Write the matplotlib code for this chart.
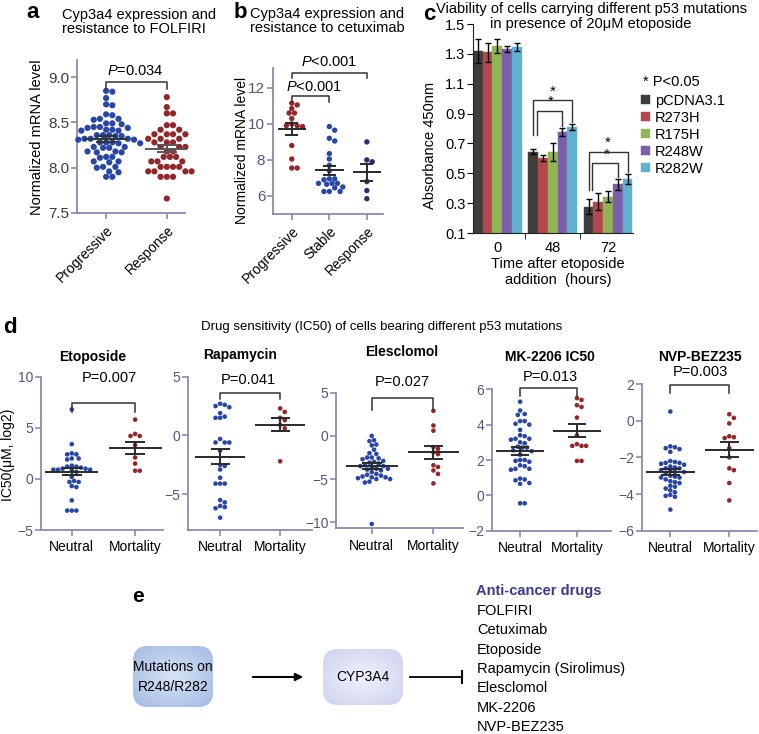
import numpy as np
import matplotlib.pyplot as plt
from matplotlib.patches import FancyBboxPatch
from matplotlib.colors import LinearSegmentedColormap

plt.rcParams['font.family'] = ['Liberation Sans', 'DejaVu Sans']
plt.rcParams['mathtext.fontset'] = 'custom'
plt.rcParams['mathtext.it'] = 'Liberation Sans:italic'
plt.rcParams['mathtext.rm'] = 'Liberation Sans'

W, H = 759, 734

# ---------------- data ----------------
# a: Cyp3a4 vs FOLFIRI
folfiri_progressive = [8.85, 8.84, 8.77, 8.70, 8.69, 8.59, 8.58, 8.54, 8.54, 8.53,
                       8.49, 8.49, 8.48, 8.45, 8.45, 8.44, 8.44, 8.42, 8.42, 8.41, 8.41,
                       8.36, 8.36, 8.36, 8.35, 8.35, 8.32, 8.32, 8.32, 8.31, 8.31,
                       8.28, 8.28, 8.28, 8.27, 8.27, 8.23, 8.23, 8.22, 8.22,
                       8.18, 8.18, 8.17, 8.17, 8.12, 8.12, 8.11, 8.07, 8.07, 8.06,
                       8.01, 8.01, 8.00, 7.96, 7.95, 7.90, 7.90]
folfiri_response = [8.78, 8.67, 8.60, 8.60, 8.47, 8.47, 8.42, 8.42,
                    8.37, 8.37, 8.37, 8.37, 8.32, 8.32, 8.32, 8.28, 8.28, 8.28,
                    8.23, 8.23, 8.23, 8.18, 8.18, 8.12, 8.12, 8.12, 8.07, 8.07, 8.07,
                    8.01, 8.01, 8.01, 8.01, 7.96, 7.96, 7.96, 7.96, 7.90, 7.90, 7.90, 7.66]

# b: Cyp3a4 vs cetuximab
cetux_progressive = [11.15, 11.05, 10.85, 10.6, 10.6, 10.3, 10.0, 9.9, 9.9, 9.85,
                     8.8, 8.05, 7.55, 7.55]
cetux_stable = [9.85, 9.65, 9.2, 9.05, 8.35, 8.05, 7.7, 7.4, 6.95, 6.95, 6.9,
                6.7, 6.7, 6.7, 6.65, 6.5, 6.45, 6.25, 6.25, 6.25]
cetux_response = [9.0, 8.0, 7.9, 6.8, 6.3, 5.85]

# c: viability bars
hours = ['0', '48', '72']
constructs = ['pCDNA3.1', 'R273H', 'R175H', 'R248W', 'R282W']
absorbance = {
    'pCDNA3.1': [1.322, 0.645, 0.277],
    'R273H': [1.31, 0.603, 0.31],
    'R175H': [1.352, 0.643, 0.343],
    'R248W': [1.33, 0.777, 0.425],
    'R282W': [1.347, 0.807, 0.46],
}
absorbance_err = {
    'pCDNA3.1': [0.08, 0.015, 0.05],
    'R273H': [0.065, 0.022, 0.055],
    'R175H': [0.048, 0.062, 0.035],
    'R248W': [0.02, 0.025, 0.035],
    'R282W': [0.028, 0.02, 0.032],
}
bar_colors = ['#3d3d3d', '#b4474d', '#91b552', '#7c5fa8', '#5fb1d0']

# d: IC50 by p53 mutation class
drug_names = ['Etoposide', 'Rapamycin', 'Elesclomol', 'MK-2206 IC50', 'NVP-BEZ235']
drug_pvals = ['P=0.007', 'P=0.041', 'P=0.027', 'P=0.013', 'P=0.003']
neutral_etoposide = [6.8, 3.4, 2.5, 2.4, 2.4, 2.0, 1.9, 2.0, 1.3, 1.2, 1.2, 1.1, 1.0, 1.0,
                     0.9, 0.9, 0.9, 0.8, 0.7, 0.2, -0.2, -0.3, -0.3, -0.7, -0.8, -2.1,
                     -3.1, -3.1, -3.1]
mortality_etoposide = [5.8, 4.4, 4.2, 4.2, 3.3, 2.1, 1.5, 0.8, 0.8]
neutral_rapamycin = [2.7, 2.6, 2.5, 2.4, 1.9, 1.6, 1.5, 1.5, -0.3, -0.6, -0.6, -0.6, -1.3,
                     -2.5, -2.6, -2.9, -3.6, -4.1, -4.1, -4.1, -5.5, -5.7, -6.0, -6.1,
                     -6.2, -7.0]
mortality_rapamycin = [2.3, 2.0, 1.5, 1.3, 0.9, 0.6, -2.2]
neutral_elesclomol = [0.0, -0.5, -0.6, -1.0, -1.1, -1.6, -2.0, -2.1, -2.5, -2.5, -2.6, -2.7,
                      -2.9, -3.0, -3.1, -3.2, -3.4, -3.5, -3.5, -3.6, -3.8, -3.8, -3.9,
                      -4.0, -4.2, -4.4, -4.5, -4.6, -4.7, -4.8, -4.8, -4.9, -5.0, -5.0,
                      -5.3, -5.4, -10.2]
mortality_elesclomol = [2.9, 1.2, 0.6, -1.3, -1.5, -1.9, -2.1, -3.4, -3.6, -4.0, -4.4, -5.5]
neutral_mk2206 = [5.3, 4.8, 4.6, 4.55, 4.2, 4.2, 4.05, 4.0, 3.7, 3.4, 3.35, 3.2, 3.2, 3.15,
                  3.0, 2.95, 2.75, 2.7, 2.7, 2.55, 2.5, 2.3, 2.0, 2.0, 1.95, 1.9, 1.7,
                  1.65, 1.5, 1.5, 1.45, 0.95, 0.9, 0.85, 0.7, 0.65, -0.45, -0.45]
mortality_mk2206 = [5.5, 5.4, 5.1, 5.0, 4.4, 3.4, 2.9, 2.8, 2.8, 2.8, 1.95, 1.95]
neutral_nvp = [0.5, -1.4, -1.45, -1.5, -1.55, -1.7, -2.2, -2.25, -2.3, -2.3, -2.35, -2.4,
               -2.5, -2.55, -2.6, -2.6, -2.7, -2.75, -2.8, -2.8, -2.9, -3.0, -3.05,
               -3.1, -3.1, -3.2, -3.3, -3.35, -3.4, -3.55, -3.6, -3.7, -3.8, -3.9,
               -4.05, -4.1, -4.15, -4.85]
mortality_nvp = [0.35, 0.15, -0.15, -0.85, -0.9, -0.95, -1.5, -2.0, -2.6, -2.7, -3.4, -4.35]

# e: diagram
drug_list = ['FOLFIRI', 'Cetuximab', 'Etoposide', 'Rapamycin (Sirolimus)',
             'Elesclomol', 'MK-2206', 'NVP-BEZ235']

BLUE = '#2846a8'
RED = '#922629'
NAVY = '#2d2c6c'
SPINE = '#8a8ab2'
TICKLAB = '#55557c'

fig = plt.figure(figsize=(W / 100, H / 100), dpi=100)


def px_axes(x0, y0, x1, y1):
    return fig.add_axes([x0 / W, 1 - y1 / H, (x1 - x0) / W, (y1 - y0) / H])


def ftext(x, y, s, **kw):
    kw.setdefault('ha', 'center')
    kw.setdefault('va', 'center')
    return fig.text(x / W, 1 - y / H, s, **kw)


def swarm(ax, xc, vals, diam):
    vals = np.asarray(vals, float)
    t = ax.transData
    ypix = t.transform(np.column_stack([np.zeros_like(vals), vals]))[:, 1]
    sx = t.transform((1, 0))[0] - t.transform((0, 0))[0]
    placed = []
    xoff = np.zeros(len(vals))
    step = diam * 0.5
    for i in np.argsort(-vals, kind='stable'):
        k = 0
        while True:
            cand = ((k + 1) // 2) * step * (1 if k % 2 else -1)
            if all((cand - px) ** 2 + (ypix[i] - py) ** 2 >= (diam * 0.97) ** 2
                   for px, py in placed):
                break
            k += 1
        placed.append((cand, ypix[i]))
        xoff[i] = cand / sx
    return xc + xoff


def mean_sem(ax, xc, vals, half_mean, half_sem, color='#2a2a2a', lw=1.4):
    m = np.mean(vals)
    se = np.std(vals, ddof=1) / np.sqrt(len(vals))
    kw = dict(color=color, lw=lw, zorder=4, solid_capstyle='butt')
    ax.plot([xc - half_mean, xc + half_mean], [m, m], **kw)
    ax.plot([xc - half_sem, xc + half_sem], [m + se, m + se], **kw)
    ax.plot([xc - half_sem, xc + half_sem], [m - se, m - se], **kw)
    ax.plot([xc, xc], [m - se, m + se], **kw)


def bracket(ax, x0, x1, ytop, yleg0, yleg1=None, color='#333333', lw=1.1):
    if yleg1 is None:
        yleg1 = yleg0
    ax.plot([x0, x0, x1, x1], [yleg0, ytop, ytop, yleg1], color=color, lw=lw,
            clip_on=False, zorder=5)


def style_scatter(ax, spine=SPINE, ticklab=TICKLAB, fs=10):
    for s in ['top', 'right']:
        ax.spines[s].set_visible(False)
    for s in ['left', 'bottom']:
        ax.spines[s].set_color(spine)
        ax.spines[s].set_linewidth(1.3)
    ax.tick_params(axis='both', colors=spine, direction='out', length=4, width=1.2)
    ax.tick_params(axis='y', labelcolor=ticklab, labelsize=fs, pad=1.5)
    ax.tick_params(axis='x', labelcolor='black', labelsize=fs)
    ax.set_facecolor('none')


def dots(ax, xc, vals, color, diam):
    xs = swarm(ax, xc, vals, diam)
    s = (diam * 0.72) ** 2
    ax.scatter(xs, vals, s=s, color=color, edgecolors='none', zorder=3, clip_on=False)


# ---------------- panel a ----------------
ax = px_axes(77, 60, 185, 213)
ax.set_xlim(-0.48, 1.3)
ax.set_ylim(7.5, 9.19)
style_scatter(ax)
ax.set_yticks([7.5, 8.0, 8.5, 9.0])
ax.set_yticklabels(['7.5', '8.0', '8.5', '9.0'], color='#3a3a3a', fontsize=11)
ax.set_xticks([0, 1])
ax.set_xticklabels(['Progressive', 'Response'], rotation=45, ha='right',
                   rotation_mode='anchor', fontsize=10)
dots(ax, 0, folfiri_progressive, BLUE, 6.2)
dots(ax, 1, folfiri_response, RED, 6.2)
mean_sem(ax, 0, folfiri_progressive, 0.36, 0.16, color='#333333')
mean_sem(ax, 1, folfiri_response, 0.36, 0.16, color='#555555')
bracket(ax, 0, 1, 8.95, 8.87)
ftext(135, 71, r'$\it{P}$=0.034', fontsize=10.5)
ftext(37, 137, 'Normalized mRNA level', fontsize=10.5, rotation=90)
ftext(33, 13, 'a', fontsize=16, fontweight='bold')
ftext(62, 22, 'Cyp3a4 expression and\nresistance to FOLFIRI', ha='left',
      fontsize=10.5, linespacing=1.05)

# ---------------- panel b ----------------
ax = px_axes(273, 68, 383, 214)
ax.set_xlim(-0.5, 2.43)
ax.set_ylim(5.0, 13.1)
style_scatter(ax)
ax.set_yticks([6, 8, 10, 12])
ax.tick_params(axis='y', labelsize=11)
ax.set_xticks([0, 1, 2])
ax.set_xticklabels(['Progressive', 'Stable', 'Response'], rotation=45, ha='right',
                   rotation_mode='anchor', fontsize=10)
dots(ax, 0, cetux_progressive, RED, 5.4)
dots(ax, 1, cetux_stable, BLUE, 5.4)
dots(ax, 2, cetux_response, NAVY, 5.4)
mean_sem(ax, 0, cetux_progressive, 0.38, 0.17)
mean_sem(ax, 1, cetux_stable, 0.38, 0.17)
mean_sem(ax, 2, cetux_response, 0.38, 0.17)
bracket(ax, 0, 1, 11.52, 11.24)
bracket(ax, 0, 2, 12.82, 12.54)
ftext(314, 87, r'$\it{P}$<0.001', fontsize=10.5)
ftext(329, 62, r'$\it{P}$<0.001', fontsize=10.5)
ftext(242, 150, 'Normalized mRNA level', fontsize=10, rotation=90)
ftext(240, 12, 'b', fontsize=16, fontweight='bold')
ftext(250, 21, 'Cyp3a4 expression and\nresistance to cetuximab', ha='left',
      fontsize=10.5, linespacing=1.05)

# ---------------- panel c ----------------
ax = px_axes(473, 24, 633, 233)
x = np.arange(len(hours))
w = 0.176
handles = []
for i, name in enumerate(constructs):
    b = ax.bar(x + (i - 2) * w, absorbance[name], w, yerr=absorbance_err[name],
               color=bar_colors[i], edgecolor=bar_colors[i], linewidth=0.3,
               error_kw=dict(ecolor='black', elinewidth=1, capsize=2, capthick=1))
    handles.append(b)
ax.set_xlim(-0.44, 2.45)
ax.set_ylim(0.1, 1.5)
ax.set_yticks(np.round(np.arange(0.1, 1.51, 0.2), 1))
ax.set_yticklabels(['0.1', '0.3', '0.5', '0.7', '0.9', '1.1', '1.3', '1.5'])
ax.set_xticks(x)
ax.set_xticklabels(hours)
ax.set_xticks([0.5, 1.5], minor=True)
ax.tick_params(axis='x', which='major', length=0, labelsize=10.5, pad=6)
ax.tick_params(axis='x', which='minor', length=4, direction='out')
ax.tick_params(axis='y', length=4, direction='out', labelsize=10.5, pad=1.5)
for s in ['top', 'right']:
    ax.spines[s].set_visible(False)
for s in ['left', 'bottom']:
    ax.spines[s].set_color('#222222')
ax.set_facecolor('none')
ftext(430, 145, 'Absorbance 450nm', fontsize=10.5, rotation=90)
# significance brackets
bracket(ax, 1 - 2 * w, 1 + 2 * w, 0.99, 0.755, 0.845, lw=1)
bracket(ax, 1 - 2 * w + 0.07, 1 + w, 0.92, 0.755, 0.82, lw=1)
bracket(ax, 2 - 2 * w, 2 + 2 * w, 0.644, 0.39, 0.51, lw=1)
bracket(ax, 2 - 2 * w + 0.07, 2 + w, 0.567, 0.39, 0.475, lw=1)
for xs, ys in [(1.0, 0.99), (0.97, 0.92), (2.0, 0.644), (1.97, 0.567)]:
    ax.text(xs, ys + 0.012, '*', ha='center', va='bottom', fontsize=11)
ax.legend(handles, constructs, loc='upper left', bbox_to_anchor=(641 / W, 1 - 94 / H),
          bbox_transform=fig.transFigure, frameon=False, handlelength=0.6,
          handleheight=0.6, handletextpad=0.35, labelspacing=0.2, fontsize=10.5,
          borderaxespad=0, borderpad=0)
ftext(643, 82, '* P<0.05', ha='left', fontsize=10.5)
ftext(429, 14, 'c', fontsize=16, fontweight='bold')
ftext(591, 16.5, 'Viability of cells carrying different p53 mutations\n'
      'in presence of 20\u03bcM etoposide', fontsize=10.5, linespacing=1.05)
ftext(558, 272, 'Time after etoposide\naddition  (hours)', fontsize=10.5,
      linespacing=1.1)

# ---------------- panel d ----------------
d_axes = [(40.7, 376.7, 163, 530, (-0.49, 1.44), (-5, 10), [-5, 0, 5, 10]),
          (188.3, 376.7, 312, 530, (-0.53, 1.53), (-8.05, 5), [-5, 0, 5]),
          (336, 392.7, 463, 528.3, (-0.58, 1.48), (-10.7, 5), [-10, -5, 0, 5]),
          (491.7, 389.3, 611, 530.7, (-0.5, 1.6), (-2, 6), [-2, 0, 2, 4, 6]),
          (641.7, 384, 757, 530.7, (-0.485, 1.47), (-6, 2), [-6, -4, -2, 0, 2])]
neutral_sets = [neutral_etoposide, neutral_rapamycin, neutral_elesclomol,
                neutral_mk2206, neutral_nvp]
mortality_sets = [mortality_etoposide, mortality_rapamycin, mortality_elesclomol,
                  mortality_mk2206, mortality_nvp]
bracket_y = [(7.43, 6.5), (3.58, 3.1), (4.37, 3.0), (6.05, 5.6), (1.95, 1.49)]
title_pos = [(93, 357), (240, 355), (402, 352), (550, 357), (700, 357)]
pval_pos = [(109, 378), (248, 380), (402, 382), (550, 377), (700, 372)]

for k in range(5):
    x0, y0, x1, y1, xlim, ylim, yt = d_axes[k]
    ax = px_axes(x0, y0, x1, y1)
    ax.set_xlim(*xlim)
    ax.set_ylim(*ylim)
    style_scatter(ax, fs=10)
    ax.set_yticks(yt)
    ax.set_xticks([0, 1])
    ax.set_xticklabels(['Neutral', 'Mortality'])
    dots(ax, 0, neutral_sets[k], BLUE, 4.6)
    dots(ax, 1, mortality_sets[k], RED, 4.6)
    mean_sem(ax, 0, neutral_sets[k], 0.42, 0.16)
    mean_sem(ax, 1, mortality_sets[k], 0.42, 0.16)
    bracket(ax, 0, 1, bracket_y[k][0], bracket_y[k][1])
    ftext(*title_pos[k], drug_names[k], fontsize=10, fontweight='bold')
    ftext(*pval_pos[k], drug_pvals[k], fontsize=10.5)

ftext(8, 455, 'IC50(\u03bcM, log2)', fontsize=10, rotation=90)
ftext(382, 327, 'Drug sensitivity (IC50) of cells bearing different p53 mutations',
      fontsize=9.5)
ftext(10, 328, 'd', fontsize=16, fontweight='bold')

# ---------------- panel e ----------------
axe = fig.add_axes([0, 0, 1, 1], zorder=-1)
axe.axis('off')


def grad_box(x0, y0, bw, bh, c_edge, c_mid):
    patch = FancyBboxPatch((x0, y0), bw, bh, boxstyle='round,pad=0,rounding_size=15',
                           fc='none', ec='none')
    axe.add_patch(patch)
    yy, xx = np.mgrid[-1:1:80j, -1:1:80j]
    r = np.clip(np.sqrt(xx ** 2 + yy ** 2) / 1.3, 0, 1)
    cmap = LinearSegmentedColormap.from_list('g', [c_mid, c_edge])
    im = axe.imshow(r, cmap=cmap, extent=(x0, x0 + bw, y0 + bh, y0), aspect='auto',
                    interpolation='bilinear', zorder=1)
    im.set_clip_path(patch)


grad_box(133, 646, 80, 61, '#a6bde5', '#d8e3f5')
grad_box(323, 649, 80, 56, '#cfd5ef', '#eff1fa')
axe.text(173, 677, 'Mutations on\nR248/R282', ha='center', va='center', fontsize=10,
         linespacing=1.5)
axe.text(363, 677, 'CYP3A4', ha='center', va='center', fontsize=10)
axe.annotate('', xy=(306, 677), xytext=(250, 677),
             arrowprops=dict(arrowstyle='-|>', color='black', lw=1.5, mutation_scale=11))
axe.plot([410, 462], [677, 677], color='black', lw=1.3)
axe.plot([462, 462], [671, 683], color='black', lw=1.5)
axe.text(138, 597, 'e', ha='center', va='center', fontsize=15, fontweight='bold')
axe.text(476, 591, 'Anti-cancer drugs', ha='left', va='center', fontsize=10.5,
         fontweight='bold', color='#3b3b8e')
for i, name in enumerate(drug_list):
    axe.text(477, 611 + i * 19.3, name, ha='left', va='center', fontsize=10.5)
axe.set_xlim(0, W)
axe.set_ylim(H, 0)

fig.savefig('out.png', dpi=100)
